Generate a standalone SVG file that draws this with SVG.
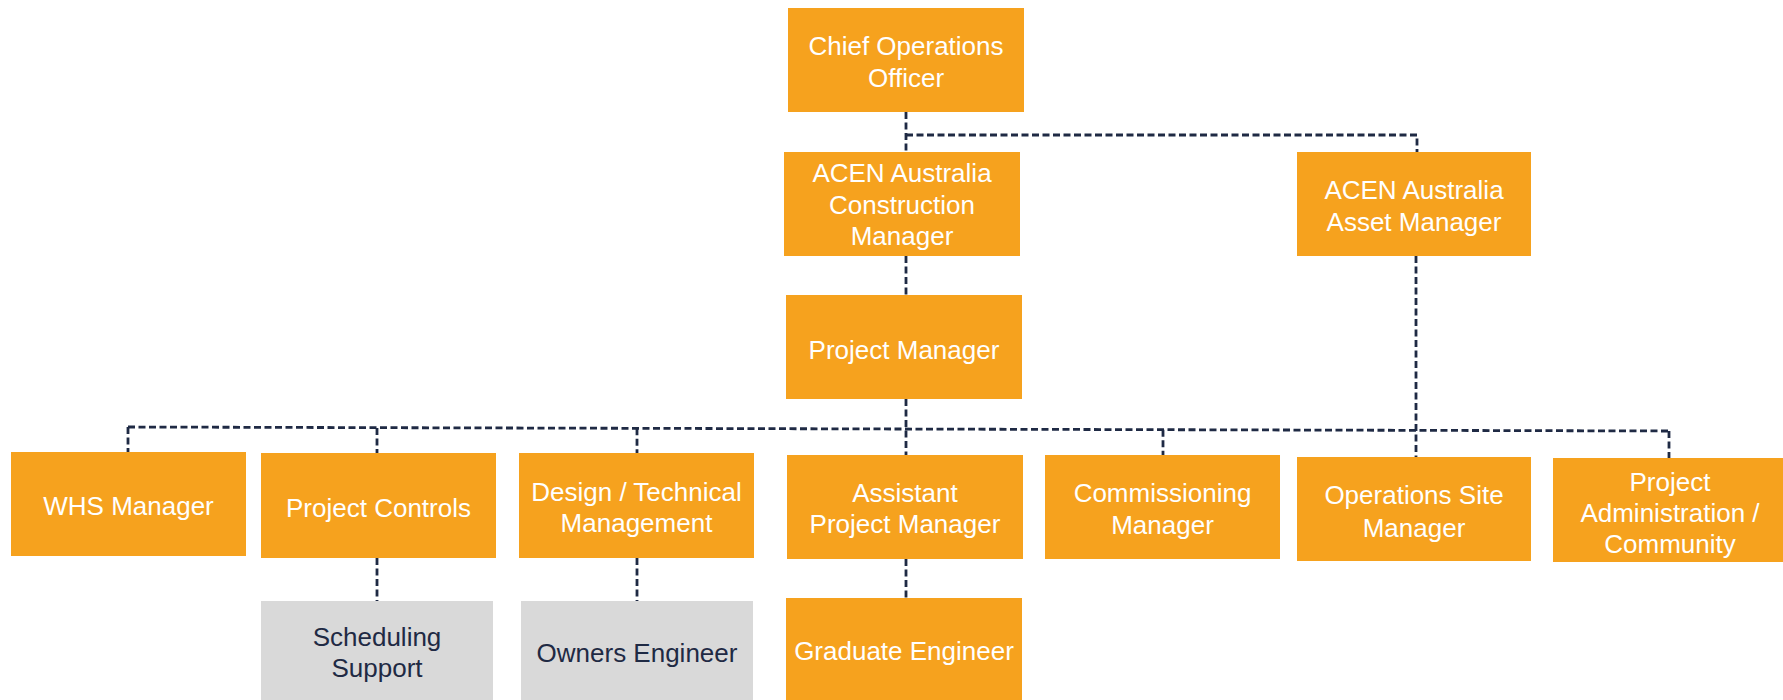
<svg xmlns="http://www.w3.org/2000/svg" width="1783" height="700" viewBox="0 0 1783 700">
<style>
.box{fill:#F6A21E;}
.grey{fill:#D9D9D9;}
text{font-family:"Liberation Sans",Arial,sans-serif;font-size:26px;text-anchor:middle;}
.w{fill:#FFFFFF;}
.d{fill:#1F2A44;}
.c{stroke:#1F2A44;stroke-width:2.8;stroke-dasharray:7 3.5;fill:none;}
</style>
<rect width="1783" height="700" fill="#FFFFFF"/>
<g id="connectors">
<line class="c" x1="906" y1="112" x2="906" y2="152"/>
<path class="c" d="M906 135 H1417 V152"/>
<line class="c" x1="906" y1="256" x2="906" y2="295"/>
<line class="c" x1="906" y1="399" x2="906" y2="455"/>
<line class="c" x1="128" y1="427" x2="1669" y2="431"/>
<line class="c" x1="128" y1="427" x2="128" y2="452"/>
<line class="c" x1="377" y1="428" x2="377" y2="453"/>
<line class="c" x1="637" y1="428.3" x2="637" y2="453"/>
<line class="c" x1="1163" y1="429.7" x2="1163" y2="455"/>
<line class="c" x1="1669" y1="431" x2="1669" y2="458"/>
<line class="c" x1="1416" y1="256" x2="1416" y2="457"/>
<line class="c" x1="377" y1="558" x2="377" y2="601"/>
<line class="c" x1="637" y1="558" x2="637" y2="601"/>
<line class="c" x1="906" y1="559" x2="906" y2="598"/>
</g>
<g id="coo"><rect class="box" x="788" y="8" width="236" height="104"/><text class="w" x="906" y="55">Chief Operations</text><text class="w" x="906" y="87">Officer</text></g>
<g id="construction-manager"><rect class="box" x="784" y="152" width="236" height="104"/><text class="w" x="902" y="182">ACEN Australia</text><text class="w" x="902" y="213.5">Construction</text><text class="w" x="902" y="245">Manager</text></g>
<g id="asset-manager"><rect class="box" x="1297" y="152" width="234" height="104"/><text class="w" x="1414" y="199">ACEN Australia</text><text class="w" x="1414" y="231">Asset Manager</text></g>
<g id="project-manager"><rect class="box" x="786" y="295" width="236" height="104"/><text class="w" x="904" y="359">Project Manager</text></g>
<g id="whs-manager"><rect class="box" x="11" y="452" width="235" height="104"/><text class="w" x="128.5" y="515">WHS Manager</text></g>
<g id="project-controls"><rect class="box" x="261" y="453" width="235" height="105"/><text class="w" x="378.5" y="517">Project Controls</text></g>
<g id="design-technical"><rect class="box" x="519" y="453" width="235" height="105"/><text class="w" x="636.5" y="501">Design / Technical</text><text class="w" x="636.5" y="532">Management</text></g>
<g id="assistant-pm"><rect class="box" x="787" y="455" width="236" height="104"/><text class="w" x="905" y="502">Assistant</text><text class="w" x="905" y="533">Project Manager</text></g>
<g id="commissioning-manager"><rect class="box" x="1045" y="455" width="235" height="104"/><text class="w" x="1162.5" y="502">Commissioning</text><text class="w" x="1162.5" y="534">Manager</text></g>
<g id="operations-site-manager"><rect class="box" x="1297" y="457" width="234" height="104"/><text class="w" x="1414" y="504">Operations Site</text><text class="w" x="1414" y="537">Manager</text></g>
<g id="project-admin"><rect class="box" x="1553" y="458" width="235" height="104"/><text class="w" x="1670" y="491">Project</text><text class="w" x="1670" y="522">Administration /</text><text class="w" x="1670" y="553">Community</text></g>
<g id="scheduling-support"><rect class="grey" x="261" y="601" width="232" height="110"/><text class="d" x="377" y="646">Scheduling</text><text class="d" x="377" y="677">Support</text></g>
<g id="owners-engineer"><rect class="grey" x="521" y="601" width="232" height="110"/><text class="d" x="637" y="662">Owners Engineer</text></g>
<g id="graduate-engineer"><rect class="box" x="786" y="598" width="236" height="110"/><text class="w" x="904" y="660">Graduate Engineer</text></g>
</svg>
